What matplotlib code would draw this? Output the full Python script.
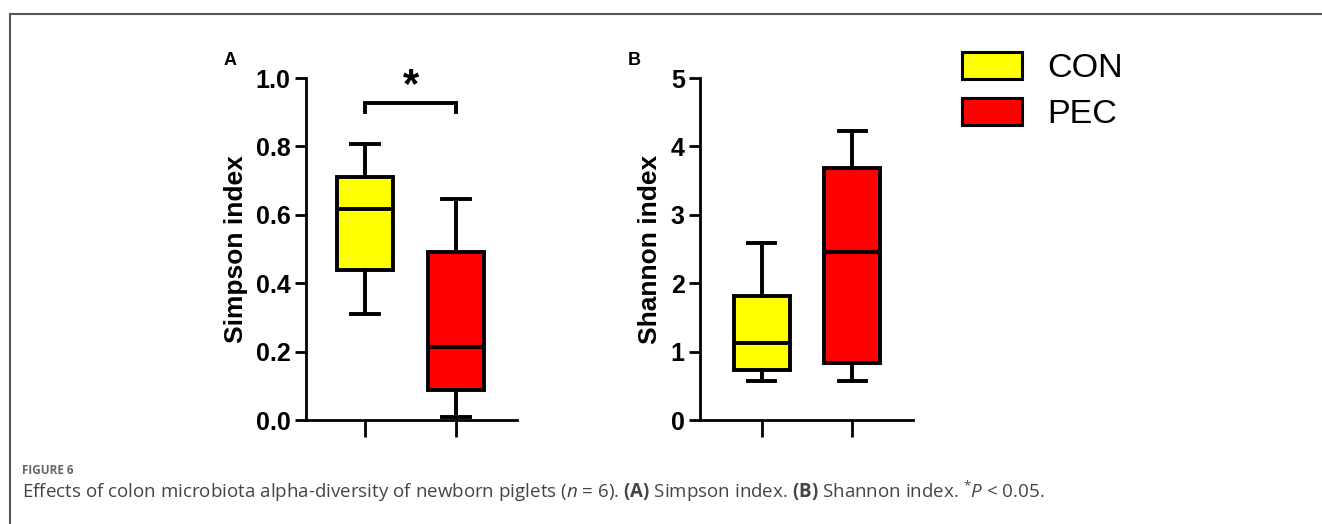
import matplotlib
matplotlib.use("Agg")
import matplotlib.pyplot as plt
from matplotlib.patches import Patch
from matplotlib.lines import Line2D
import numpy as np

# box statistics (whislo, q1, med, q3, whishi)
groups = ["CON", "PEC"]
colors = ["#ffff00", "#ff0000"]

simpson_lo = [0.31, 0.01]
simpson_q1 = [0.44, 0.088]
simpson_med = [0.617, 0.213]
simpson_q3 = [0.71, 0.49]
simpson_hi = [0.807, 0.646]

shannon_lo = [0.57, 0.57]
shannon_q1 = [0.73, 0.84]
shannon_med = [1.12, 2.45]
shannon_q3 = [1.82, 3.68]
shannon_hi = [2.59, 4.22]

simpson_ticks = [0.0, 0.2, 0.4, 0.6, 0.8, 1.0]
shannon_ticks = [0, 1, 2, 3, 4, 5]

W, H = 1322, 524
fig = plt.figure(figsize=(W / 100, H / 100), dpi=100)
fig.patch.set_facecolor("white")

plt.rcParams["mathtext.fontset"] = "custom"
plt.rcParams["mathtext.rm"] = "Open Sans"
plt.rcParams["mathtext.it"] = "Open Sans:italic"
plt.rcParams["mathtext.bf"] = "Open Sans:bold"


def px(x0, x1, y0, y1):
    # pixel box (top-left origin) -> figure fraction
    return [x0 / W, 1 - y1 / H, (x1 - x0) / W, (y1 - y0) / H]


def draw_box(ax, lo, q1, med, q3, hi):
    stats = []
    for i in range(len(groups)):
        stats.append(dict(whislo=lo[i], q1=q1[i], med=med[i], q3=q3[i], whishi=hi[i], fliers=[], label=""))
    lw = 2.8
    bp = ax.bxp(stats, positions=[1, 2], widths=0.62, patch_artist=True, showfliers=False,
                capwidths=0.3,
                boxprops=dict(linewidth=lw, edgecolor="black"),
                medianprops=dict(color="black", linewidth=lw),
                whiskerprops=dict(color="black", linewidth=lw),
                capprops=dict(color="black", linewidth=lw))
    for patch, c in zip(bp["boxes"], colors):
        patch.set_facecolor(c)
    for k in ["boxes", "medians", "whiskers", "caps"]:
        for a in bp[k]:
            a.set_clip_on(False)
            a.set_zorder(3)


def style(ax):
    for s in ["top", "right"]:
        ax.spines[s].set_visible(False)
    for s in ["left", "bottom"]:
        ax.spines[s].set_linewidth(2.0)
    ax.tick_params(axis="y", width=2.0, length=8, labelsize=18, pad=3)
    ax.tick_params(axis="x", width=2.0, length=12, labelbottom=False)
    ax.set_xticks([1, 2])
    for t in ax.get_yticklabels():
        t.set_fontweight("bold")
        t.set_family("Liberation Sans")


# panel A
axA = fig.add_axes(px(306, 517, 78, 420))
draw_box(axA, simpson_lo, simpson_q1, simpson_med, simpson_q3, simpson_hi)
axA.set_xlim(1 - 59 / 91, 2 + 61 / 91)
axA.set_ylim(0, 1.0)
axA.set_yticks(simpson_ticks)
axA.set_yticklabels([f"{v:.1f}" for v in simpson_ticks])
style(axA)
axA.set_ylabel("Simpson index", fontsize=19, fontweight="bold", family="Liberation Sans", labelpad=6)
axA.plot([1, 1, 2, 2], [0.9, 0.927, 0.927, 0.9], color="black", lw=2.8, clip_on=False,
         solid_joinstyle="miter")
axA.text(1.5, 0.975, "*", ha="center", va="center", fontsize=30, fontweight="bold",
         family="Liberation Sans")

# panel B
axB = fig.add_axes(px(700, 913, 78, 420))
draw_box(axB, shannon_lo, shannon_q1, shannon_med, shannon_q3, shannon_hi)
axB.set_xlim(1 - 62 / 90, 2 + 61 / 90)
axB.set_ylim(0, 5)
axB.set_yticks(shannon_ticks)
axB.set_yticklabels([str(v) for v in shannon_ticks])
style(axB)
axB.set_ylabel("Shannon index", fontsize=19, fontweight="bold", family="Liberation Sans", labelpad=6)

# panel letters
fig.text(230 / W, 1 - 61 / H, "A", fontsize=13, fontweight="bold", family="Liberation Sans",
         ha="center", va="center")
fig.text(634 / W, 1 - 61 / H, "B", fontsize=13, fontweight="bold", family="Liberation Sans",
         ha="center", va="center")

# legend
handles = [Patch(facecolor=c, edgecolor="black", linewidth=2.2) for c in colors]
fig.legend(handles, groups, loc="upper left", bbox_to_anchor=(962 / W, 1 - 52 / H),
           frameon=False, prop=dict(family="Liberation Sans", size=24.5),
           handlelength=1.75, handleheight=0.85, labelspacing=0.4, handletextpad=0.75,
           borderaxespad=0, borderpad=0)

# outer frame lines (top and left)
fig.add_artist(Line2D([10 / W, 1.0], [1 - 14 / H, 1 - 14 / H], transform=fig.transFigure,
                      color="#555555", lw=1.5))
fig.add_artist(Line2D([10 / W, 10 / W], [0, 1 - 14 / H], transform=fig.transFigure,
                      color="#555555", lw=1.5))

# caption
fig.text(22 / W, 1 - 471 / H, "FIGURE 6", fontsize=8.5, color="#666666", family="Open Sans",
         fontweight="bold", va="center", ha="left")
caption = (r"Effects of colon microbiota alpha-diversity of newborn piglets ($n$ = 6). "
           r"$\mathbf{(A)}$ Simpson index. $\mathbf{(B)}$ Shannon index. $^{*}P$ < 0.05.")
fig.text(22 / W, 1 - 491 / H, caption, fontsize=13.5, color="#444444", family="Open Sans",
         va="center", ha="left")

fig.savefig("out.png", dpi=100, facecolor="white")
